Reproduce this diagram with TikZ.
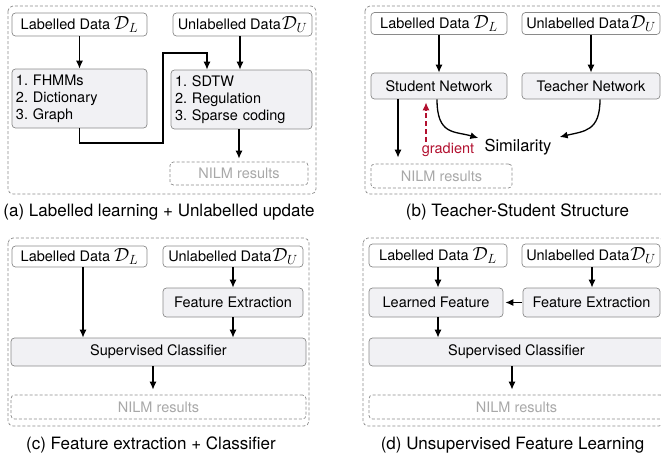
\RequirePackage{fix-cm}
\documentclass[tikz,border=0pt]{standalone}
\usepackage{fontspec}
\setmainfont{TeX Gyre Heros}
\usetikzlibrary{arrows.meta,calc}
\definecolor{boxfill}{HTML}{F1F1F4}
\definecolor{boxline}{HTML}{8A8A8A}
\definecolor{nilm}{HTML}{A8A8A8}
\definecolor{grad}{HTML}{B2102F}
\newcommand\myDL{{\fontsize{19}{19}\selectfont$\mathcal{D}_L$}}
\newcommand\myDU{{\fontsize{19}{19}\selectfont$\mathcal{D}_U$}}
\frenchspacing
\begin{document}
\begin{tikzpicture}[x=1pt,y=-1pt,
  every node/.style={font=\fontsize{14.5}{17}\selectfont, inner sep=0pt},
  databox/.style={draw=boxline, line width=0.7pt, rounded corners=3.5pt, fill=white},
  procbox/.style={draw=boxline, line width=0.7pt, rounded corners=3.5pt, fill=boxfill},
  resbox/.style={draw=boxline, dash pattern=on 3pt off 2pt, line width=0.7pt, rounded corners=3.5pt, text=nilm},
  panel/.style={draw=boxline, dash pattern=on 3pt off 2pt, line width=0.7pt, rounded corners=5pt},
  arr/.style={-{Latex[length=8pt,width=7pt]}, line width=1.3pt},
  gradarr/.style={-{Latex[length=8pt,width=7pt]}, line width=1.3pt, draw=grad, dash pattern=on 5pt off 3pt},
  capt/.style={font=\fontsize{17}{20}\selectfont, anchor=base},
]
\useasboundingbox (0,0) rectangle (661,455);

% ---------- panel (a) ----------
\draw[panel] (8,6) rectangle (316,194);
\node[databox, minimum width=135pt, minimum height=23pt] (aL) at (79.5,24.5) {Labelled Data \myDL};
\node[databox, minimum width=139pt, minimum height=23pt] (aU) at (242.5,24.5) {Unlabelled Data\hspace{1pt}\myDU};
\node[procbox, minimum width=135pt, minimum height=59pt, text width=127pt, align=left] (aM1) at (79.5,98.5) {1. FHMMs\\2. Dictionary\\3. Graph};
\node[procbox, minimum width=141pt, minimum height=59pt, text width=133pt, align=left] (aM2) at (241.5,99.5) {1. SDTW\\2. Regulation\\3. Sparse coding};
\node[resbox, minimum width=138pt, minimum height=23pt] (aN) at (239,173.5) {NILM results};
\node[capt] (aCap) at (159,216.5) {(a) Labelled learning + Unlabelled update};
\coordinate (aj1) at (163,143);
\coordinate (aj2) at (207,53);
\coordinate (ax) at (240,0);
\draw[arr] (aL) -- (aM1);
\draw[arr] (aU.south -| ax) -- (aM2.north -| ax);
\draw[arr] (aM1.south) |- (aj1) |- (aj2) -- (aM2.north -| aj2);
\draw[arr, shorten >=3pt] (aN.north |- aM2.south) -- (aN.north);

% ---------- panel (b) ----------
\draw[panel] (365,6) rectangle (673,194);
\node[databox, minimum width=136pt, minimum height=22pt] (bL) at (439,23.5) {Labelled Data \myDL};
\node[databox, minimum width=138pt, minimum height=22pt] (bU) at (591,23.5) {Unlabelled Data\hspace{1pt}\myDU};
\node[procbox, minimum width=136pt, minimum height=26pt] (bS) at (439,86) {Student Network};
\node[procbox, minimum width=138pt, minimum height=26pt] (bT) at (591,86) {Teacher Network};
\node[resbox, minimum width=141pt, minimum height=24pt] (bN) at (441.5,176) {NILM results};
\node[font=\fontsize{16.5}{20}\selectfont] (bSim) at (518,147) {Similarity};
\node[font=\fontsize{14.5}{17}\selectfont, text=grad] (bG) at (448,150) {gradient};
\node[capt] (bCap) at (517.5,216.5) {(b) Teacher-Student Structure};
\coordinate (bx) at (398,0);
\coordinate (gs) at (426,142);
\draw[arr] (bL) -- (bS);
\draw[arr] (bU) -- (bT);
\draw[arr, shorten >=6pt] (bS.south -| bx) -- (bN.north -| bx);
\draw[arr] ($(bS.south)+(-2,0)$) .. controls ($(bS.south)+(-2,36)$) and ($(bSim.west)+(-30,-16)$) .. ($(bSim.west)+(-6,-9)$);
\draw[arr] ($(bT.south)+(9,0)$) .. controls ($(bT.south)+(9,32)$) and ($(bSim.east)+(33,-16)$) .. ($(bSim.east)+(8,-10)$);
\draw[gradarr, shorten >=3pt] (gs) -- (bS.south -| gs);

% ---------- panel (c) ----------
\draw[panel] (8,238) rectangle (309,426);
\node[databox, minimum width=135pt, minimum height=21pt] (cL) at (79.5,256.5) {Labelled Data \myDL};
\node[databox, minimum width=140pt, minimum height=21pt] (cU) at (233,256.5) {Unlabelled Data\hspace{1pt}\myDU};
\node[procbox, minimum width=140pt, minimum height=29pt] (cF) at (233,302.5) {Feature Extraction};
\node[procbox, minimum width=295pt, minimum height=28pt] (cC) at (158.5,352) {Supervised Classifier};
\node[resbox, minimum width=295pt, minimum height=24pt] (cN) at (158.5,407) {NILM results};
\node[capt] (cCap) at (151,449) {(c) Feature extraction + Classifier};
\coordinate (cx1) at (83,0);
\coordinate (cx2) at (153,0);
\draw[arr] (cL.south -| cx1) -- (cC.north -| cx1);
\draw[arr] (cU) -- (cF);
\draw[arr] (cF) -- (cC.north -| cF);
\draw[arr, shorten >=5pt] (cC.south -| cx2) -- (cN.north -| cx2);

% ---------- panel (d) ----------
\draw[panel] (363,238) rectangle (664,426);
\node[databox, minimum width=138pt, minimum height=23pt] (dL) at (438,255.5) {Labelled Data \myDL};
\node[databox, minimum width=138pt, minimum height=23pt] (dU) at (591,255.5) {Unlabelled Data\hspace{1pt}\myDU};
\node[procbox, minimum width=134pt, minimum height=29pt] (dLF) at (436,302.5) {Learned Feature};
\node[procbox, minimum width=137pt, minimum height=29pt] (dF) at (591.5,302.5) {Feature Extraction};
\node[procbox, minimum width=295pt, minimum height=28pt] (dC) at (516.5,352) {Supervised Classifier};
\node[resbox, minimum width=295pt, minimum height=24pt] (dN) at (516.5,407) {NILM results};
\node[capt] (dCap) at (512.5,449) {(d) Unsupervised Feature Learning};
\coordinate (dx1) at (438,0);
\coordinate (dx2) at (592,0);
\coordinate (dx3) at (512,0);
\draw[arr] (dL.south -| dx1) -- (dLF.north -| dx1);
\draw[arr] (dU.south -| dx2) -- (dF.north -| dx2);
\draw[arr, shorten <=1pt, shorten >=2pt] (dF) -- (dLF);
\draw[arr] (dLF.south -| dx1) -- (dC.north -| dx1);
\draw[arr, shorten >=5pt] (dC.south -| dx3) -- (dN.north -| dx3);
\end{tikzpicture}
\end{document}
